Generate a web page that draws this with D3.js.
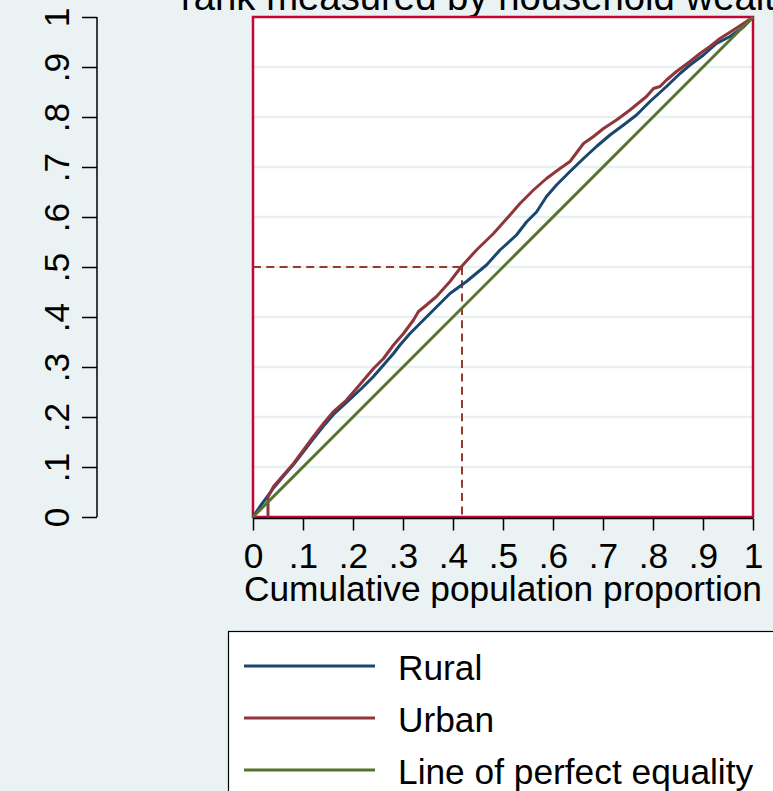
<!DOCTYPE html>
<html>
<head>
<meta charset="utf-8">
<script src="https://cdn.jsdelivr.net/npm/d3@7"></script>
<style>
  html, body { margin: 0; padding: 0; background: #eaf2f3; }
  svg { display: block; font-family: "Liberation Sans", Arial, Helvetica, sans-serif; }
</style>
</head>
<body>
<svg id="chart" width="773" height="791"></svg>
<script>
// Concentration curves: cumulative share of the outcome vs. cumulative population,
// ranked by household wealth.
const titleText = "rank measured by household wealth";
const xAxisTitle = "Cumulative population proportion";
const tickValues = [0, 0.1, 0.2, 0.3, 0.4, 0.5, 0.6, 0.7, 0.8, 0.9, 1];
const tickLabels = ["0", ".1", ".2", ".3", ".4", ".5", ".6", ".7", ".8", ".9", "1"];
const seriesNames = ["Rural", "Urban", "Line of perfect equality"];
const seriesColors = ["#1a476f", "#90353b", "#55752f"];

const ruralCurve = [
  [0, 0], [0.014, 0.021], [0.031, 0.044], [0.041, 0.058], [0.061, 0.082],
  [0.081, 0.105], [0.101, 0.131], [0.121, 0.157], [0.141, 0.182], [0.161, 0.205],
  [0.187, 0.229], [0.217, 0.257], [0.241, 0.281], [0.261, 0.304], [0.281, 0.327],
  [0.294, 0.344], [0.314, 0.367], [0.334, 0.387], [0.354, 0.407], [0.374, 0.427],
  [0.394, 0.447], [0.427, 0.471], [0.467, 0.504], [0.494, 0.534], [0.527, 0.564],
  [0.547, 0.59], [0.567, 0.61], [0.587, 0.641], [0.607, 0.664], [0.634, 0.691],
  [0.661, 0.717], [0.687, 0.741], [0.714, 0.764], [0.741, 0.784], [0.767, 0.804],
  [0.794, 0.831], [0.827, 0.861], [0.854, 0.887], [0.874, 0.904], [0.901, 0.924],
  [0.927, 0.947], [0.954, 0.961], [0.981, 0.98], [1, 1]
];

const urbanCurve = [
  [0.03, 0], [0.03, 0.04], [0.041, 0.061], [0.061, 0.084], [0.081, 0.107],
  [0.101, 0.134], [0.121, 0.161], [0.141, 0.187], [0.161, 0.211], [0.187, 0.234],
  [0.207, 0.257], [0.224, 0.277], [0.241, 0.297], [0.261, 0.317], [0.281, 0.344],
  [0.301, 0.367], [0.321, 0.394], [0.331, 0.411], [0.347, 0.424], [0.367, 0.441],
  [0.394, 0.471], [0.417, 0.501], [0.447, 0.534], [0.481, 0.567], [0.514, 0.604],
  [0.534, 0.627], [0.561, 0.654], [0.587, 0.677], [0.614, 0.697], [0.634, 0.711],
  [0.661, 0.747], [0.681, 0.761], [0.701, 0.777], [0.727, 0.794], [0.754, 0.814],
  [0.787, 0.841], [0.801, 0.857], [0.814, 0.861], [0.827, 0.874], [0.847, 0.891],
  [0.874, 0.911], [0.894, 0.927], [0.914, 0.941], [0.934, 0.957], [0.961, 0.974],
  [0.987, 0.991], [1, 1]
];

const equalityLine = [[0, 0], [1, 1]];

// Point where the urban curve reaches half of the cumulative share
const refPoint = [0.418, 0.5];

const svg = d3.select("#chart");
const plot = { left: 253, right: 753, top: 17, bottom: 517 };
const labelSize = 35.3;

const x = d3.scaleLinear().domain([0, 1]).range([plot.left, plot.right]);
const y = d3.scaleLinear().domain([0, 1]).range([plot.bottom, plot.top]);

// Title (its upper part runs past the top edge)
svg.append("text")
  .attr("x", 181).attr("y", 9.5)
  .attr("font-size", 38.3).attr("fill", "#000")
  .text(titleText);

// Plot region
svg.append("rect")
  .attr("x", plot.left).attr("y", plot.top)
  .attr("width", plot.right - plot.left).attr("height", plot.bottom - plot.top)
  .attr("fill", "#ffffff");

// Horizontal grid lines
svg.append("g")
  .selectAll("line")
  .data(tickValues.filter(v => v > 0 && v < 1))
  .join("line")
  .attr("x1", plot.left).attr("x2", plot.right)
  .attr("y1", d => y(d)).attr("y2", d => y(d))
  .attr("stroke", "#e8f0f2").attr("stroke-width", 2.5);

// Plot border
svg.append("rect")
  .attr("x", plot.left).attr("y", plot.top)
  .attr("width", plot.right - plot.left).attr("height", plot.bottom - plot.top)
  .attr("fill", "none").attr("stroke", "#c10534").attr("stroke-width", 2.5);

// Y axis, set apart from the plot region
const yAxis = d3.axisLeft(y)
  .tickValues(tickValues)
  .tickFormat((d, i) => tickLabels[i])
  .tickSize(15).tickPadding(0);
const yg = svg.append("g").attr("transform", "translate(97,0)").call(yAxis);
yg.select(".domain").attr("stroke", "#000").attr("stroke-width", 1.5).attr("d", `M0,${plot.top}V${plot.bottom}`);
yg.selectAll(".tick line").attr("stroke", "#000").attr("stroke-width", 1.5);
yg.selectAll(".tick text")
  .attr("font-size", labelSize).attr("fill", "#000")
  .attr("font-family", "'Liberation Sans', Arial, sans-serif")
  .attr("text-anchor", "middle")
  .attr("transform", "translate(-28,0) rotate(-90)")
  .attr("x", 0).attr("y", 0).attr("dy", 0);

// X axis
const xAxis = d3.axisBottom(x)
  .tickValues(tickValues)
  .tickFormat((d, i) => tickLabels[i])
  .tickSize(12).tickPadding(0);
const xg = svg.append("g").attr("transform", `translate(0,${plot.bottom + 1.5})`).call(xAxis);
xg.select(".domain").attr("stroke", "#000").attr("stroke-width", 1.5).attr("d", `M${plot.left},0H${plot.right}`);
xg.selectAll(".tick line").attr("stroke", "#000").attr("stroke-width", 1.5);
xg.selectAll(".tick text")
  .attr("font-size", labelSize).attr("fill", "#000")
  .attr("font-family", "'Liberation Sans', Arial, sans-serif")
  .attr("y", 49.5).attr("dy", 0);

svg.append("text")
  .attr("x", (plot.left + plot.right) / 2).attr("y", 601)
  .attr("text-anchor", "middle")
  .attr("font-size", labelSize).attr("fill", "#000")
  .text(xAxisTitle);

// Reference lines to the urban curve's half-share point
const refColor = "#983a2c";
svg.append("line")
  .attr("x1", x(0)).attr("x2", x(refPoint[0]))
  .attr("y1", y(refPoint[1])).attr("y2", y(refPoint[1]))
  .attr("stroke", refColor).attr("stroke-width", 2)
  .attr("stroke-dasharray", "8,5.3");
svg.append("line")
  .attr("x1", x(refPoint[0])).attr("x2", x(refPoint[0]))
  .attr("y1", y(refPoint[1])).attr("y2", y(0))
  .attr("stroke", refColor).attr("stroke-width", 2)
  .attr("stroke-dasharray", "8,5.3");

// Curves
const line = d3.line().x(d => x(d[0])).y(d => y(d[1]));
[ruralCurve, urbanCurve, equalityLine].forEach((data, i) => {
  svg.append("path")
    .datum(data)
    .attr("d", line)
    .attr("fill", "none")
    .attr("stroke", seriesColors[i])
    .attr("stroke-width", 3)
    .attr("stroke-linejoin", "round");
});

// Legend
const legend = svg.append("g");
legend.append("rect")
  .attr("x", 228.5).attr("y", 631.5)
  .attr("width", 560).attr("height", 200)
  .attr("fill", "#ffffff").attr("stroke", "#000").attr("stroke-width", 1.2);
const rowY = [666, 718, 770];
seriesNames.forEach((name, i) => {
  legend.append("line")
    .attr("x1", 244).attr("x2", 375)
    .attr("y1", rowY[i]).attr("y2", rowY[i])
    .attr("stroke", seriesColors[i]).attr("stroke-width", 3);
  legend.append("text")
    .attr("x", 398).attr("y", rowY[i] + 13.5)
    .attr("font-size", labelSize).attr("fill", "#000")
    .text(name);
});
</script>
</body>
</html>
